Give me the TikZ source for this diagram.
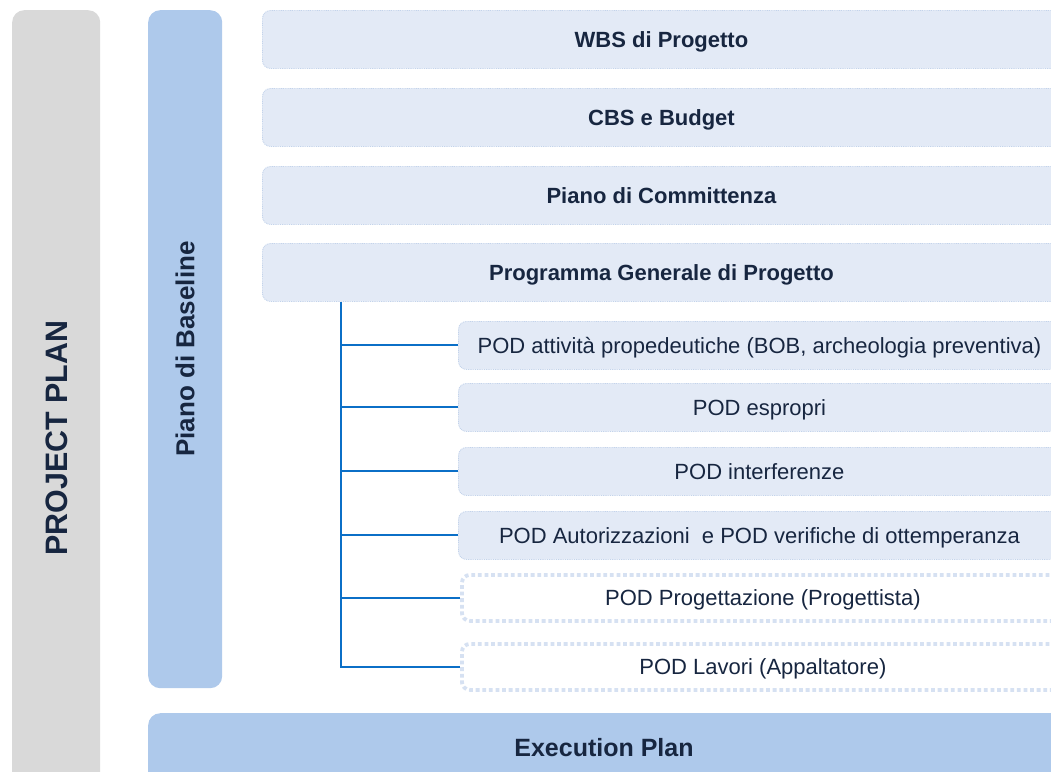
\documentclass[tikz,border=0pt]{standalone}
\usepackage{fontspec}
\setmainfont{Liberation Sans}
\definecolor{barGray}{HTML}{D9D9D9}
\definecolor{barBlue}{HTML}{AEC9EB}
\definecolor{boxFill}{HTML}{E3EAF6}
\definecolor{boxLine}{HTML}{C3D3EB}
\definecolor{dashLine}{HTML}{D6E1F2}
\definecolor{treeLine}{HTML}{0B6FC7}
\definecolor{txt}{HTML}{172640}
\begin{document}
\begin{tikzpicture}[x=1pt,y=-1pt,
  bar/.style={inner sep=0pt, anchor=north west, rounded corners=12pt},
  topbox/.style={anchor=north west, inner sep=0pt, fill=boxFill, draw=boxLine, line width=0.9pt,
    dash pattern=on 0.9pt off 0.9pt, rounded corners=8pt, minimum width=798pt, minimum height=58pt,
    text=txt, text height=16pt, text depth=0pt, font=\fontsize{22}{26}\selectfont\bfseries},
  podbox/.style={anchor=north west, inner sep=0pt, fill=boxFill, draw=boxLine, line width=0.9pt,
    dash pattern=on 0.9pt off 0.9pt, rounded corners=8pt, minimum width=602pt, minimum height=48pt,
    text=txt, text height=15.8pt, text depth=0pt, font=\fontsize{22}{26}\selectfont},
  podopen/.style={anchor=north west, inner sep=0pt, fill=white, draw=dashLine, line width=3.8pt,
    dash pattern=on 3.8pt off 2.8pt, rounded corners=8pt, minimum width=602pt, minimum height=46pt,
    text=txt, text height=15.8pt, text depth=0pt, font=\fontsize{22}{26}\selectfont},
  branch/.style={draw=treeLine, line width=2pt}
]
\useasboundingbox (0,0) rectangle (1051,771);
\clip (0,0) rectangle (1051,771);

% side bars
\node[bar, fill=barGray, minimum width=88pt, minimum height=800pt] (pp) at (12,10) {};
\node[bar, fill=barBlue, minimum width=74pt, minimum height=678pt] (pb) at (148,10) {};
\node[bar, fill=barBlue, minimum width=920pt, minimum height=100pt] (ep) at (148,713) {};

\node[rotate=90, text=txt, font=\fontsize{31}{34}\selectfont\bfseries] (ppt) at (57,438) {\scalebox{0.98}[1]{PROJECT PLAN}};
\node[rotate=90, text=txt, font=\fontsize{26}{30}\selectfont\bfseries] (pbt) at (185,349) {Piano di Baseline};
\node[text=txt, font=\fontsize{25}{29}\selectfont\bfseries] (ept) at (604,748) {Execution Plan};

% top boxes
\node[topbox] (wbs) at (262,10) {WBS di Progetto};
\node[topbox] (cbs) at (262,88) {CBS e Budget};
\node[topbox] (comm) at (262,166) {Piano di Committenza};
\node[topbox] (prog) at (262,243) {Programma Generale di Progetto};

% POD boxes
\node[podbox] (pod1) at (458,321) {POD attività propedeutiche (BOB, archeologia preventiva)};
\node[podbox] (pod2) at (458,383) {POD espropri};
\node[podbox] (pod3) at (458,447) {POD interferenze};
\node[podbox] (pod4) at (458,511) {POD Autorizzazioni\ \ e POD verifiche di ottemperanza};
\node[podopen] (pod5) at (460,573) {POD Progettazione (Progettista)};
\node[podopen] (pod6) at (460,642) {POD Lavori (Appaltatore)};

% tree
\coordinate (trunk) at (341,302);
\draw[branch] (trunk) |- (pod6.west);
\foreach \p in {pod1,pod2,pod3,pod4,pod5}{
  \draw[branch] (trunk |- \p.west) -- (\p.west);
}
\end{tikzpicture}
\end{document}
